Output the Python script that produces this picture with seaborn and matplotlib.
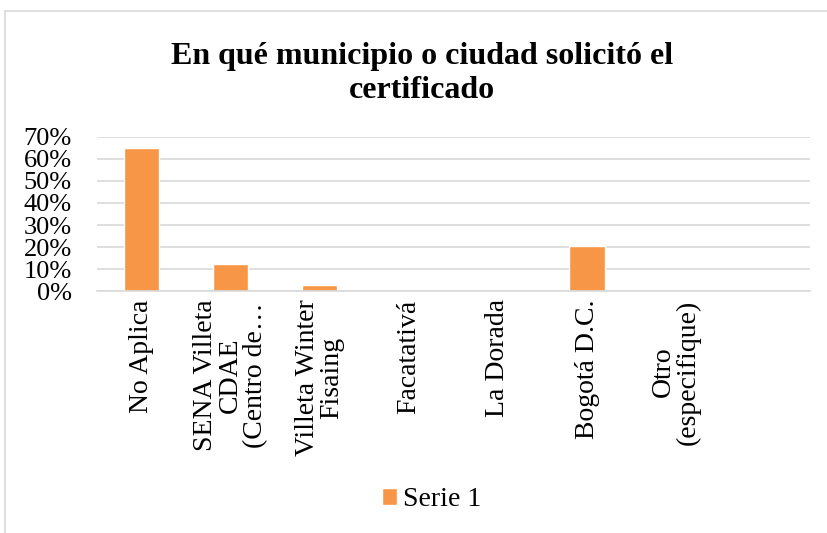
import matplotlib
matplotlib.use("Agg")
import matplotlib.pyplot as plt
from matplotlib.lines import Line2D
from matplotlib.ticker import PercentFormatter, MultipleLocator
import pandas as pd
import seaborn as sns

categorias = ["No Aplica", "SENA Villeta\nCDAE\n(Centro de…", "Villeta Winter\nFisaing",
              "Facatativá", "La Dorada", "Bogotá D.C.", "Otro\n(especifique)"]
valores = [0.65, 0.125, 0.027, 0.0, 0.0, 0.205, 0.0]
serie = "Serie 1"

sns.set_style("white")
plt.rcParams["font.family"] = ["Liberation Serif", "DejaVu Serif"]
plt.rcParams["text.color"] = "black"

df = pd.DataFrame({"categoria": categorias, "valor": valores})

fig = plt.figure(figsize=(8.28, 5.33), dpi=100)
ax = fig.add_axes([0.117, 0.454, 0.861, 0.289])

sns.barplot(data=df, x="categoria", y="valor", color="#F79646", saturation=1,
            width=0.4, label=serie, ax=ax)

ax.set_ylim(0, 0.7)
ax.set_xlim(-0.5, 7.5)
ax.yaxis.set_major_locator(MultipleLocator(0.1))
ax.yaxis.set_major_formatter(PercentFormatter(1.0, decimals=0))
ax.grid(axis="y", color="#D9D9D9", linewidth=1.2)
ax.set_axisbelow(True)
for s in ["top", "right", "left"]:
    ax.spines[s].set_visible(False)
ax.spines["bottom"].set_color("#D9D9D9")
ax.spines["bottom"].set_linewidth(1.2)
ax.set_xlabel("")
ax.set_ylabel("")
ax.tick_params(axis="x", length=0, labelsize=20, colors="black", pad=6)
ax.tick_params(axis="y", length=0, labelsize=19, colors="black", pad=18)
plt.setp(ax.get_xticklabels(), rotation=90, ha="center", va="top",
         multialignment="center", linespacing=1.0)

fig.text(0.51, 0.862, "En qué municipio o ciudad solicitó el\ncertificado", ha="center", va="center",
         fontsize=23, fontweight="bold", linespacing=1.25)

ax.legend().remove()
fig.legend(loc="center", bbox_to_anchor=(0.521, 0.062), frameon=False, fontsize=20,
           handlelength=0.55, handleheight=0.55, handletextpad=0.2)

# light chart-area border (top and left edges visible in the reference)
fig.add_artist(Line2D([0.006, 1.0], [0.979, 0.979], transform=fig.transFigure,
                      color="#D9D9D9", linewidth=1.2))
fig.add_artist(Line2D([0.006, 0.006], [0.0, 0.979], transform=fig.transFigure,
                      color="#D9D9D9", linewidth=1.2))

fig.savefig("out.png", dpi=100)
